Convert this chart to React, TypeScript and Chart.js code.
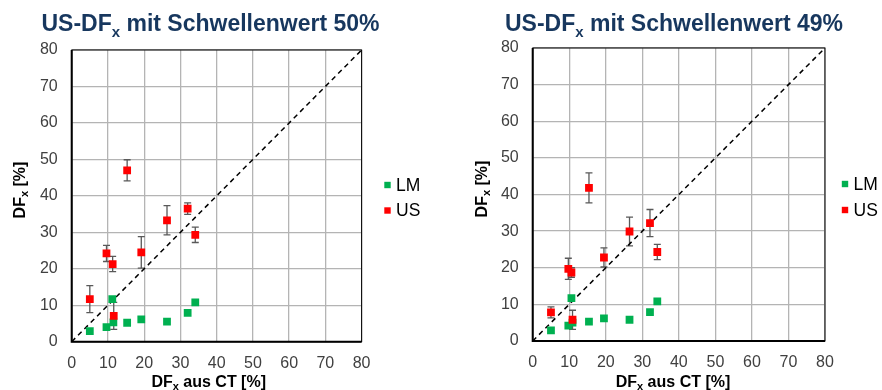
import React, { useEffect, useRef } from "react";
import { Chart, registerables } from "chart.js";

Chart.register(...registerables);

// ---- data ----
const axisTicks = [0, 10, 20, 30, 40, 50, 60, 70, 80];
const seriesNames = ["LM", "US"];
const titles = ["mit Schwellenwert 50%", "mit Schwellenwert 49%"];

// Chart 1 (Schwellenwert 50%)
const usX50 = [5.0, 9.6, 11.3, 11.6, 15.3, 19.2, 26.3, 32.0, 34.1];
const usY50 = [11.7, 24.2, 21.3, 7.1, 47.0, 24.5, 33.3, 36.5, 29.3];
const usErr50 = [3.7, 2.2, 2.1, 3.7, 2.9, 4.3, 4.0, 1.6, 2.1];
const lmX50 = [5.0, 9.6, 11.2, 11.5, 15.3, 19.2, 26.3, 32.0, 34.1];
const lmY50 = [2.9, 4.0, 11.7, 5.3, 5.2, 6.1, 5.5, 7.9, 10.8];

// Chart 2 (Schwellenwert 49%)
const usX49 = [5.0, 9.75, 10.6, 10.9, 15.4, 19.5, 26.5, 32.1, 34.1];
const usY49 = [7.8, 19.7, 18.7, 5.8, 41.8, 22.8, 29.9, 32.2, 24.3];
const usErr49 = [1.5, 2.9, 1.3, 2.6, 4.1, 2.6, 3.9, 3.7, 2.1];
const lmX49 = [5.0, 9.75, 10.6, 10.9, 15.4, 19.5, 26.5, 32.1, 34.1];
const lmY49 = [2.9, 4.2, 11.7, 5.0, 5.3, 6.2, 5.8, 7.9, 10.8];

const diagonal = [0, 80];

// ---- styles ----
const FONT = '"Liberation Sans", Arial, sans-serif';
const RED = "#FF0000";
const GREEN = "#00B050";
const NAVY = "#17375E";
const TICK_COLOR = "#404040";

type Part = { t: string; sub?: boolean };

function drawParts(
  ctx: CanvasRenderingContext2D,
  parts: Part[],
  cx: number,
  baseY: number,
  size: number,
  subSize: number,
  subDrop: number,
  color: string
) {
  ctx.save();
  ctx.fillStyle = color;
  ctx.textAlign = "left";
  ctx.textBaseline = "alphabetic";
  const widths = parts.map((p) => {
    ctx.font = `bold ${p.sub ? subSize : size}px ${FONT}`;
    return ctx.measureText(p.t).width;
  });
  const total = widths.reduce((a, b) => a + b, 0);
  let x = cx - total / 2;
  parts.forEach((p, i) => {
    ctx.font = `bold ${p.sub ? subSize : size}px ${FONT}`;
    ctx.fillText(p.t, x, baseY + (p.sub ? subDrop : 0));
    x += widths[i];
  });
  ctx.restore();
}

type Geo = {
  left: number;
  right: number;
  top: number;
  bottom: number;
  titleX: number;
  xTitleX: number;
  yTitleX: number;
  yTitleY: number;
  legendSqX: number;
  legendY: number[];
};

type Props = {
  title: string;
  usX: number[];
  usY: number[];
  usErr: number[];
  lmX: number[];
  lmY: number[];
  geo: Geo;
};

const W = 441;
const H = 390;

function ScatterPanel({ title, usX, usY, usErr, lmX, lmY, geo }: Props) {
  const ref = useRef<HTMLCanvasElement | null>(null);

  useEffect(() => {
    if (!ref.current) return;

    const errorBars = {
      id: "errorBars",
      beforeDatasetsDraw(chart: any) {
        const ctx = chart.ctx as CanvasRenderingContext2D;
        const xs = chart.scales.x;
        const ys = chart.scales.y;
        ctx.save();
        ctx.strokeStyle = "#595959";
        ctx.lineWidth = 1.3;
        usX.forEach((xv, i) => {
          const px = xs.getPixelForValue(xv);
          const pt = ys.getPixelForValue(usY[i] + usErr[i]);
          const pb = ys.getPixelForValue(usY[i] - usErr[i]);
          ctx.beginPath();
          ctx.moveTo(px, pt);
          ctx.lineTo(px, pb);
          ctx.moveTo(px - 3.5, pt);
          ctx.lineTo(px + 3.5, pt);
          ctx.moveTo(px - 3.5, pb);
          ctx.lineTo(px + 3.5, pb);
          ctx.stroke();
        });
        ctx.restore();
      },
    };

    const decor = {
      id: "decor",
      afterDraw(chart: any) {
        const ctx = chart.ctx as CanvasRenderingContext2D;
        const a = chart.chartArea;
        ctx.save();
        ctx.strokeStyle = "#000";
        ctx.lineWidth = 1;
        ctx.strokeRect(a.left, a.top, a.right - a.left, a.bottom - a.top);
        ctx.lineWidth = 2;
        ctx.beginPath();
        ctx.moveTo(a.left, a.top);
        ctx.lineTo(a.left, a.bottom);
        ctx.lineTo(a.right, a.bottom);
        ctx.stroke();
        ctx.restore();

        // title
        drawParts(ctx, [{ t: "US-DF" }, { t: "x", sub: true }, { t: " " + title }], geo.titleX, 31, 23, 15, 5.5, NAVY);
        // x axis title
        drawParts(ctx, [{ t: "DF" }, { t: "x", sub: true }, { t: " aus CT [%]" }], geo.xTitleX, 387, 16, 11, 3, "#000");
        // y axis title
        ctx.save();
        ctx.translate(geo.yTitleX, geo.yTitleY);
        ctx.rotate(-Math.PI / 2);
        drawParts(ctx, [{ t: "DF" }, { t: "x", sub: true }, { t: " [%]" }], 0, 0, 16, 11, 3, "#000");
        ctx.restore();

        // legend
        const colors = [GREEN, RED];
        ctx.save();
        ctx.font = `17.5px ${FONT}`;
        ctx.textBaseline = "middle";
        ctx.textAlign = "left";
        seriesNames.forEach((n, i) => {
          const y = geo.legendY[i];
          ctx.fillStyle = colors[i];
          ctx.fillRect(geo.legendSqX - 3.2, y - 3.2, 6.4, 6.4);
          ctx.fillStyle = "#000";
          ctx.fillText(n, geo.legendSqX + 8.5, y + 1);
        });
        ctx.restore();
      },
    };

    const tickFont = { family: FONT, size: 16 };

    const chart = new Chart(ref.current, {
      type: "scatter",
      data: {
        datasets: [
          {
            label: "diag",
            data: diagonal.map((v) => ({ x: v, y: v })),
            showLine: true,
            borderColor: "#000",
            borderWidth: 1.5,
            borderDash: [5, 4],
            pointRadius: 0,
            order: 3,
          } as any,
          {
            label: seriesNames[0],
            data: lmX.map((x, i) => ({ x, y: lmY[i] })),
            backgroundColor: GREEN,
            borderWidth: 0,
            pointStyle: "rect",
            pointRadius: 5.5,
            order: 2,
          },
          {
            label: seriesNames[1],
            data: usX.map((x, i) => ({ x, y: usY[i] })),
            backgroundColor: RED,
            borderWidth: 0,
            pointStyle: "rect",
            pointRadius: 5.5,
            order: 1,
          },
        ],
      },
      options: {
        responsive: false,
        animation: false,
        events: [],
        layout: {
          padding: { left: 0, top: geo.top, right: W - geo.right, bottom: 0 },
        },
        plugins: {
          legend: { display: false },
          tooltip: { enabled: false },
          title: { display: false },
        },
        scales: {
          x: {
            type: "linear",
            min: axisTicks[0],
            max: axisTicks[axisTicks.length - 1],
            afterBuildTicks: (s: any) => {
              s.ticks = axisTicks.map((v) => ({ value: v }));
            },
            afterFit: (s: any) => {
              s.height = H - geo.bottom;
            },
            ticks: { font: tickFont, color: TICK_COLOR, padding: 12, maxRotation: 0 },
            grid: { color: "#B4B4B4", lineWidth: 1.3, drawTicks: false },
            border: { display: false },
          },
          y: {
            type: "linear",
            min: axisTicks[0],
            max: axisTicks[axisTicks.length - 1],
            afterBuildTicks: (s: any) => {
              s.ticks = axisTicks.map((v) => ({ value: v }));
            },
            afterFit: (s: any) => {
              s.width = geo.left;
            },
            ticks: { font: tickFont, color: TICK_COLOR, padding: 14 },
            grid: { color: "#B4B4B4", lineWidth: 1.3, drawTicks: false },
            border: { display: false },
          },
        },
      },
      plugins: [errorBars, decor],
    });

    return () => chart.destroy();
  }, []);

  return <canvas ref={ref} width={W} height={H} style={{ display: "block", width: W, height: H }} />;
}

export default function App() {
  const geo1: Geo = {
    left: 71.7,
    right: 361.6,
    top: 50,
    bottom: 341.7,
    titleX: 210.5,
    xTitleX: 208.7,
    yTitleX: 25,
    yTitleY: 190,
    legendSqX: 387.5,
    legendY: [185, 210.5],
  };
  const geo2: Geo = {
    left: 91.7,
    right: 384,
    top: 48,
    bottom: 341,
    titleX: 233,
    xTitleX: 232,
    yTitleX: 486.5 - 441,
    yTitleY: 189,
    legendSqX: 845 - 441,
    legendY: [184, 210],
  };
  return (
    <div style={{ position: "absolute", left: 0, top: 0, width: 882, height: 390, display: "flex", background: "#fff" }}>
      <ScatterPanel title={titles[0]} usX={usX50} usY={usY50} usErr={usErr50} lmX={lmX50} lmY={lmY50} geo={geo1} />
      <ScatterPanel title={titles[1]} usX={usX49} usY={usY49} usErr={usErr49} lmX={lmX49} lmY={lmY49} geo={geo2} />
    </div>
  );
}
